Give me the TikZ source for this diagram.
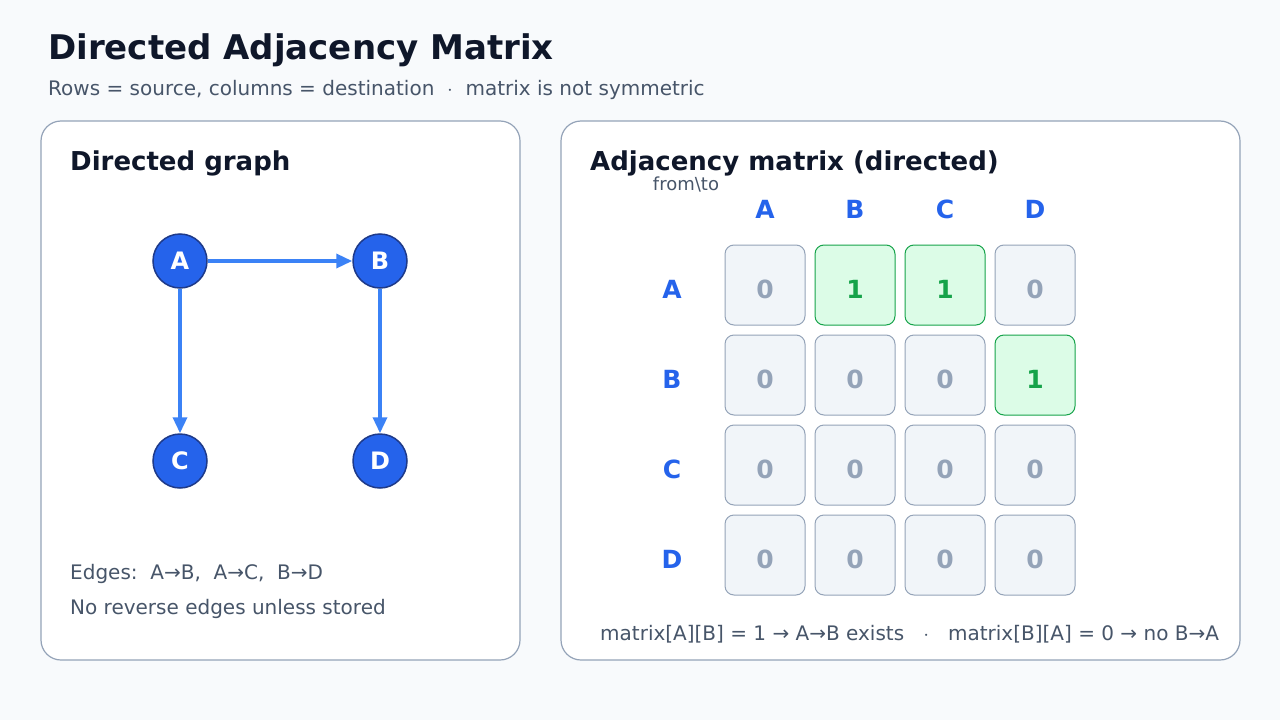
\documentclass[tikz,border=0pt]{standalone}
\usepackage{fontspec}
\setmainfont{DejaVu Sans}
\usetikzlibrary{arrows.meta}
\definecolor{bgc}{HTML}{F8FAFC}
\definecolor{ink}{HTML}{0F172A}
\definecolor{muted}{HTML}{475569}
\definecolor{edge}{HTML}{94A3B8}
\definecolor{blue}{HTML}{2563EB}
\definecolor{bluedark}{HTML}{1E3A8A}
\definecolor{arrowc}{HTML}{3B82F6}
\definecolor{cellg}{HTML}{F1F5F9}
\definecolor{green}{HTML}{16A34A}
\definecolor{greenl}{HTML}{DCFCE7}
\tikzset{
  panel/.style={draw=edge, line width=1.2pt, fill=white, rounded corners=20pt},
  vert/.style={circle, fill=blue, draw=bluedark, line width=1.5pt, minimum size=54pt, inner sep=0pt, text=white, font={\fontsize{24}{28}\selectfont\bfseries}},
  link/.style={draw=arrowc, line width=3.5pt, -{Triangle[length=16pt,width=14pt]}},
  cell/.style={draw=edge, fill=cellg, line width=1pt, rounded corners=9pt, minimum size=80pt, inner sep=0pt, text=edge, font={\fontsize{25}{30}\selectfont\bfseries}},
  one/.style={cell, draw=green, fill=greenl, text=green},
  digit/.style={text=#1, font={\fontsize{25}{30}\selectfont\bfseries}},
  head/.style={text=blue, font={\fontsize{25}{30}\selectfont\bfseries}},
  note/.style={text=muted, anchor=west, inner sep=0pt, font={\fontsize{20}{24}\selectfont}}
}
\begin{document}
\begin{tikzpicture}[x=1pt, y=-1pt]
    \fill[bgc] (0,0) rectangle (1280,720);
    \useasboundingbox (0,0) rectangle (1280,720);

    \node[anchor=west, inner sep=0pt, text=ink, font={\fontsize{34}{40}\selectfont\bfseries}] (title) at (48,50) {Directed Adjacency Matrix};
    \node[note] (subtitle) at (48,90) {Rows = source, columns = destination \ $\cdot$\ \ matrix is not symmetric};

    % left panel
    \draw[panel] (41,121) rectangle (520,660);
    \node[anchor=west, inner sep=0pt, text=ink, font={\fontsize{26}{30}\selectfont\bfseries}] (gtitle) at (70,163) {Directed graph};
    \node[vert] (A) at (180,261) {A};
    \node[vert] (B) at (380,261) {B};
    \node[vert] (C) at (180,461) {C};
    \node[vert] (D) at (380,461) {D};
    \draw[link] (A) -- (B);
    \draw[link] (A) -- (C);
    \draw[link] (B) -- (D);
    \node[note] (edges) at (70,574) {Edges:\ \ A→B,\ \ A→C,\ \ B→D};
    \node[note] (norev) at (70,609) {No reverse edges unless stored};

    % right panel
    \draw[panel] (561,121) rectangle (1240,660);
    \node[anchor=west, inner sep=0pt, text=ink, font={\fontsize{26}{30}\selectfont\bfseries}] (mtitle) at (590,163) {Adjacency matrix (directed)};
    \node[text=muted, inner sep=0pt, font={\fontsize{18}{21}\selectfont}] (fromto) at (686,184) {from\textbackslash to};
    \foreach \n/\x in {A/765, B/855, C/945, D/1035}
        \node[head] (col\n) at (\x,209) {\n};
    \foreach \n/\y in {A/289, B/379, C/469, D/559}
        \node[head] (row\n) at (672,\y) {\n};
    \node[cell] (mAA) at (765,285) {};
    \node[one]  (mAB) at (855,285) {};
    \node[one]  (mAC) at (945,285) {};
    \node[cell] (mAD) at (1035,285) {};
    \node[cell] (mBA) at (765,375) {};
    \node[cell] (mBB) at (855,375) {};
    \node[cell] (mBC) at (945,375) {};
    \node[one]  (mBD) at (1035,375) {};
    \foreach \r/\y in {C/465, D/555}
        \foreach \c/\x in {A/765, B/855, C/945, D/1035}
            \node[cell] (m\r\c) at (\x,\y) {};
    \foreach \r in {A,B,C,D}
        \foreach \c in {A,B,C,D}
            \node[digit=edge] at ([yshift=-4pt]m\r\c.center) {0};
    \foreach \m in {mAB, mAC, mBD}
        \node[fill=greenl, inner sep=1pt, digit=green] at ([yshift=-4pt]\m.center) {1};
    \node[note] (foot) at (600,634) {matrix[A][B] = 1 → A→B exists \ \ $\cdot$\ \ \ matrix[B][A] = 0 → no B→A};
\end{tikzpicture}
\end{document}
